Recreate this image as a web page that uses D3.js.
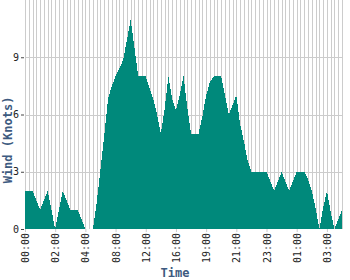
<!DOCTYPE html>
<html>
<head>
<meta charset="utf-8">
<script src="https://cdn.jsdelivr.net/npm/d3@7"></script>
<style>
  html, body { margin: 0; padding: 0; background: #fff; }
  svg { display: block; }
</style>
</head>
<body>
<svg id="chart" width="350" height="280"></svg>
<script>
// Sample times (categorical x axis, irregular spacing)
const times = [
  "00:00","00:15","00:30","00:45","01:00","01:15","01:30","01:45",
  "02:00","02:15","02:30","02:45","03:00","03:15","03:30","03:45",
  "04:00","04:30","05:00","05:30","06:00","06:30","07:00","07:30",
  "08:00","08:30","09:00","09:30","10:00","10:30","11:00","11:30",
  "12:00","12:30","13:00","13:30","14:00","14:30","15:00","15:30",
  "16:00","16:20","16:45","17:05","17:30","17:50","18:15","18:35",
  "19:00","19:15","19:30","19:45","20:00","20:15","20:30","20:45",
  "21:00","21:15","21:30","21:45","22:00","22:15","22:30","22:45",
  "23:00","23:15","23:30","23:45","00:00","00:15","00:30","00:45",
  "01:00","01:15","01:30","01:45","02:00","02:15","02:30","02:45",
  "03:00","03:15","03:30","03:45","04:00"
];
// Wind speed in knots
const wind = [
  2, 2, 2, 1.5, 1, 1.5, 2, 1,
  0, 1, 2, 1.5, 1, 1, 1, 0.5,
  0, 0, 0, 1.4, 3.1, 4.9, 6.8, 7.5,
  8, 8.4, 8.85, 9.9, 11, 9.5, 8, 8,
  8, 7.4, 6.8, 6, 5, 6.3, 8, 6.8,
  6.2, 7, 8, 6.4, 5, 5, 5, 5.9,
  7, 7.7, 8, 8, 8, 7, 6, 6.5,
  7, 5.5, 4.6, 3.6, 3, 3, 3, 3,
  3, 2.5, 2, 2.5, 3, 2.5, 2, 2.5,
  3, 3, 3, 2.6, 2, 1.1, 0, 1.1,
  2, 0.9, 0, 0.5, 1
];
const yTicks = [0, 3, 6, 9];
const tickEvery = 8;

const W = 350, H = 280;
const svg = d3.select("#chart");
const mLeft = 25, mRight = 342, mTop = 0, mBottom = 229;

const idx = wind.map((_, i) => i);
const x = d3.scalePoint().domain(idx).range([mLeft, mRight]);
const y = d3.scaleLinear().domain([0, 12]).range([mBottom, mTop]);

// vertical grid (one per sample)
svg.append("g").selectAll("line").data(idx).join("line")
  .attr("x1", d => Math.round(x(d)) + 0.5).attr("x2", d => Math.round(x(d)) + 0.5)
  .attr("y1", mTop).attr("y2", mBottom)
  .attr("stroke", "#cccccc").attr("stroke-width", 1);

// horizontal grid
svg.append("g").selectAll("line").data(yTicks.filter(d => d > 0)).join("line")
  .attr("x1", mLeft).attr("x2", mRight + 1)
  .attr("y1", d => Math.round(y(d)) + 0.5).attr("y2", d => Math.round(y(d)) + 0.5)
  .attr("stroke", "#cccccc").attr("stroke-width", 1);

// area
const area = d3.area()
  .x((d, i) => x(i))
  .y0(y(0))
  .y1(d => y(d));
svg.append("path").datum(wind)
  .attr("d", area)
  .attr("fill", "#00897b")
  .attr("shape-rendering", "crispEdges");

// y axis
const yAxis = d3.axisLeft(y).tickValues(yTicks).tickSize(3).tickPadding(2);
const gy = svg.append("g").attr("transform", `translate(${mLeft - 1},0)`).call(yAxis);
gy.select(".domain").remove();
gy.selectAll(".tick line").attr("stroke", "#444");
gy.selectAll("text").attr("font-family", "DejaVu Sans Mono").attr("font-size", 10).attr("fill", "#222");

// x axis
const xAxis = d3.axisBottom(x)
  .tickValues(idx.filter(i => i % tickEvery === 0))
  .tickFormat(i => times[i])
  .tickSize(3);
const gx = svg.append("g").attr("transform", `translate(0,${mBottom})`).call(xAxis);
gx.select(".domain").remove();
gx.selectAll(".tick line").attr("stroke", "#cccccc");
gx.selectAll("text")
  .attr("font-family", "DejaVu Sans Mono").attr("font-size", 10).attr("fill", "#222")
  .attr("transform", "translate(0,4) rotate(-90)")
  .attr("text-anchor", "end")
  .attr("dy", "0.35em")
  .attr("x", 0).attr("y", 0);

// titles
svg.append("text")
  .attr("x", W / 2).attr("y", 277)
  .attr("text-anchor", "middle")
  .attr("font-family", "DejaVu Sans Mono").attr("font-weight", "bold")
  .attr("font-size", 12).attr("fill", "#3d5a80")
  .text("Time");
svg.append("text")
  .attr("transform", `translate(12,${H / 2}) rotate(-90)`)
  .attr("text-anchor", "middle")
  .attr("font-family", "DejaVu Sans Mono").attr("font-weight", "bold")
  .attr("font-size", 12).attr("fill", "#3d5a80")
  .text("Wind (Knots)");
</script>
</body>
</html>
